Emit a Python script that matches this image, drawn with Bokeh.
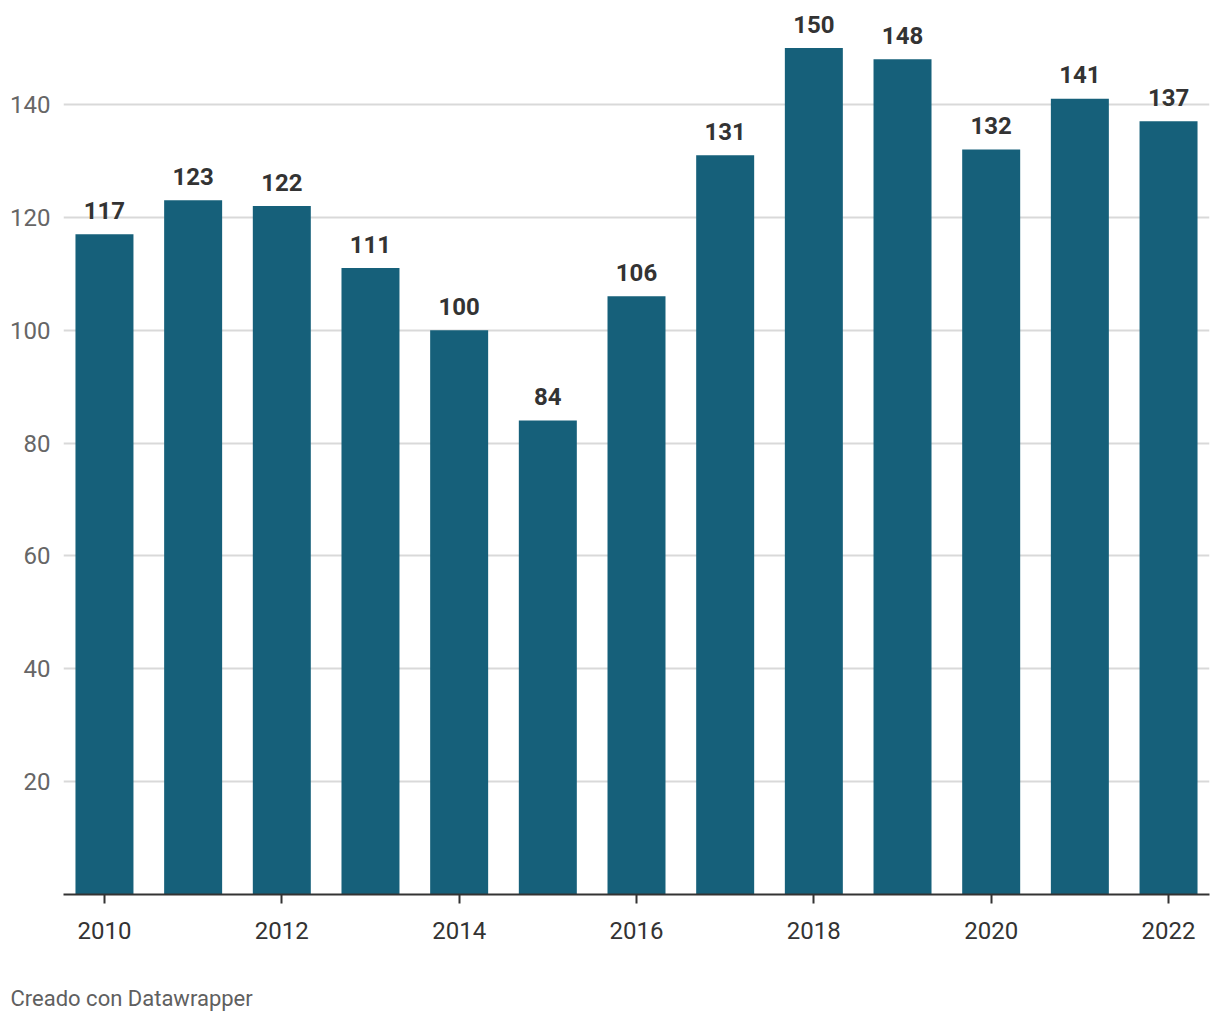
from bokeh.plotting import figure
from bokeh.models import Range1d, FixedTicker, Title, ColumnDataSource
from bokeh.core.properties import value
from bokeh.embed import file_html
from bokeh.resources import INLINE

# Data
years = [2010, 2011, 2012, 2013, 2014, 2015, 2016, 2017, 2018, 2019, 2020, 2021, 2022]
counts = [117, 123, 122, 111, 100, 84, 106, 131, 150, 148, 132, 141, 137]
x_tick_years = [2010, 2012, 2014, 2016, 2018, 2020, 2022]
y_ticks = [20, 40, 60, 80, 100, 120, 140]
credit = "Creado con Datawrapper"

src = ColumnDataSource(dict(x=years, top=counts, label=[str(v) for v in counts]))

p = figure(width=1212, height=1014, output_backend="svg", toolbar_location=None,
           x_range=Range1d(2009.538, 2022.462), y_range=Range1d(0, 157.0),
           min_border_left=63, min_border_right=3, min_border_top=8, min_border_bottom=120)
p.outline_line_color = None
p.background_fill_color = "white"
p.border_fill_color = "white"

p.vbar(x="x", top="top", width=0.654, source=src, fill_color="#16607a", line_color=None)
p.text(x="x", y="top", text="label", source=src, text_align="center",
       text_baseline="alphabetic", y_offset=-24, text_font=value("Roboto"),
       text_font_style="bold", text_font_size="24px", text_color="#333333")

# grid
p.xgrid.grid_line_color = None
p.ygrid.ticker = FixedTicker(ticks=y_ticks)
p.ygrid.grid_line_color = "#d9d9d9"
p.ygrid.grid_line_width = 2

# y axis
p.yaxis.ticker = FixedTicker(ticks=y_ticks)
p.yaxis.axis_line_color = None
p.yaxis.major_tick_line_color = None
p.yaxis.minor_tick_line_color = None
p.yaxis.major_label_standoff = 7
p.yaxis.major_label_text_font = "Roboto"
p.yaxis.major_label_text_font_size = "24px"
p.yaxis.major_label_text_color = "#666666"

# x axis
p.xaxis.ticker = FixedTicker(ticks=x_tick_years)
p.xaxis.major_label_overrides = {y: str(y) for y in x_tick_years}
p.xaxis.axis_line_color = "#333333"
p.xaxis.axis_line_width = 2
p.xaxis.major_tick_line_color = "#333333"
p.xaxis.major_tick_line_width = 2
p.xaxis.major_tick_out = 9
p.xaxis.major_tick_in = 0
p.xaxis.minor_tick_line_color = None
p.xaxis.major_label_standoff = 18
p.xaxis.major_label_text_font = "Roboto"
p.xaxis.major_label_text_font_size = "24px"
p.xaxis.major_label_text_color = "#333333"

# spacer between axis and credit line
p.add_layout(Title(text=" ", standoff=0, text_font="Roboto", text_font_size="34px"), "below")
p.add_layout(Title(text=credit, align="left", offset=-53, standoff=0,
                   text_font="Roboto", text_font_size="22px", text_font_style="normal",
                   text_color="#606060"), "below")

open("out.html", "w").write(file_html(p, INLINE))
